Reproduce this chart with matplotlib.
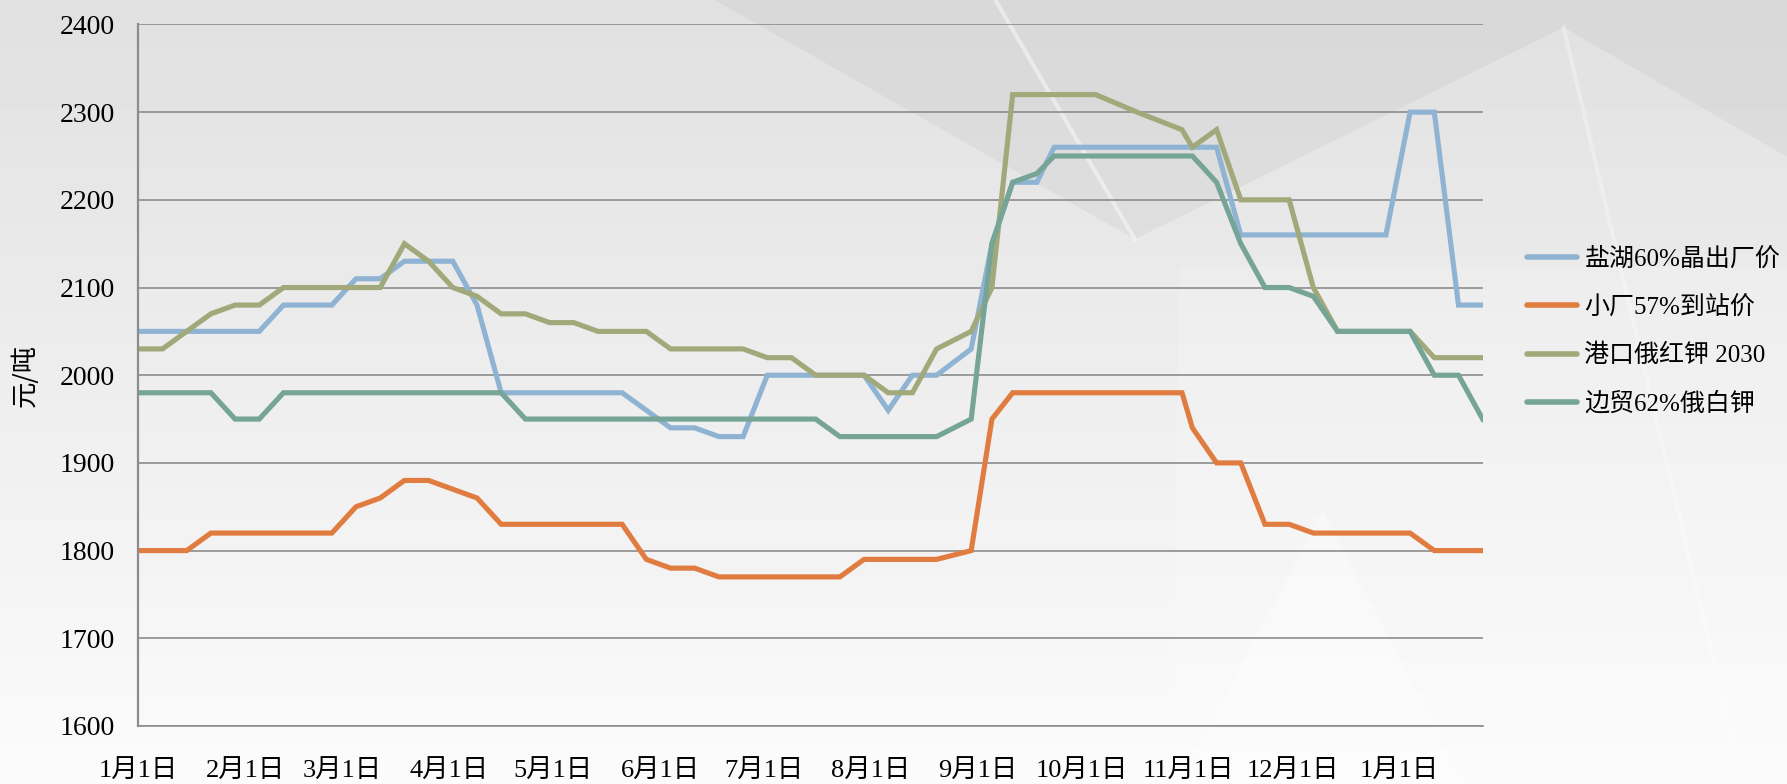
import numpy as np
import matplotlib.pyplot as plt
from matplotlib.patches import Polygon

# days since 1月1日 for each price point
days = [0, 7, 14, 21, 28, 35, 42, 49, 56, 63, 70, 77, 84, 91, 98, 105, 112, 119, 126, 133,
        140, 147, 154, 161, 168, 175, 182, 189, 196, 203, 210, 217, 224, 231,
        241, 247, 253, 260, 265, 277, 289, 302, 305,
        312, 319, 326, 333, 340, 347, 354, 361, 368, 375, 382, 389]

# 盐湖60%晶出厂价
yanhu = [2050, 2050, 2050, 2050, 2050, 2050, 2080, 2080, 2080, 2110, 2110, 2130, 2130, 2130,
         2080, 1980, 1980, 1980, 1980, 1980, 1980, 1960, 1940, 1940, 1930, 1930,
         2000, 2000, 2000, 2000, 2000, 1960, 2000, 2000, 2030, 2150, 2220, 2220,
         2260, 2260, 2260, 2260, 2260, 2260, 2160, 2160, 2160, 2160, 2160, 2160, 2160,
         2300, 2300, 2080, 2080]
# 小厂57%到站价
xiaochang = [1800, 1800, 1800, 1820, 1820, 1820, 1820, 1820, 1820, 1850, 1860, 1880, 1880,
             1870, 1860, 1830, 1830, 1830, 1830, 1830, 1830, 1790, 1780, 1780,
             1770, 1770, 1770, 1770, 1770, 1770, 1790, 1790, 1790, 1790, 1800, 1950,
             1980, 1980, 1980, 1980, 1980, 1980, 1940, 1900, 1900, 1830, 1830,
             1820, 1820, 1820, 1820, 1820, 1800, 1800, 1800]
# 港口俄红钾 2030
gangkou = [2030, 2030, 2050, 2070, 2080, 2080, 2100, 2100, 2100, 2100, 2100, 2150, 2130,
           2100, 2090, 2070, 2070, 2060, 2060, 2050, 2050, 2050, 2030, 2030, 2030, 2030,
           2020, 2020, 2000, 2000, 2000, 1980, 1980, 2030, 2050, 2100,
           2320, 2320, 2320, 2320, 2300, 2280, 2260, 2280, 2200, 2200, 2200, 2100,
           2050, 2050, 2050, 2050, 2020, 2020, 2020]
# 边贸62%俄白钾
bianmao = [1980, 1980, 1980, 1980, 1950, 1950] + [1980] * 10 + [1950] * 13 + [1930] * 5 + \
          [1950, 2150, 2220, 2230, 2250, 2250, 2250, 2250, 2250, 2220, 2150, 2100, 2100,
           2090, 2050, 2050, 2050, 2050, 2000, 2000, 1950]

month_days = [0, 31, 59, 90, 120, 151, 181, 212, 243, 273, 304, 334, 365]
month_labels = ["1月1日", "2月1日", "3月1日", "4月1日", "5月1日", "6月1日", "7月1日",
                "8月1日", "9月1日", "10月1日", "11月1日", "12月1日", "1月1日"]
y_ticks = [1600, 1700, 1800, 1900, 2000, 2100, 2200, 2300, 2400]

series = [("盐湖60%晶出厂价", yanhu, "#8fb4d3"),
          ("小厂57%到站价", xiaochang, "#e07c40"),
          ("港口俄红钾 2030", gangkou, "#a1a97b"),
          ("边贸62%俄白钾", bianmao, "#76a496")]

fonts = ["Liberation Serif", "Noto Sans CJK SC"]

fig = plt.figure(figsize=(17.87, 7.84), dpi=100)

# grey gradient background with some faint shapes
bg = fig.add_axes([0, 0, 1, 1], zorder=-10)
grad = np.linspace(0.88, 0.985, 256).reshape(-1, 1)
bg.imshow(grad, cmap="gray", vmin=0, vmax=1, aspect="auto", extent=[0, 1, 0, 1])
shapes = [[(0.40, 1.0), (0.635, 0.695), (0.875, 0.965), (1.0, 0.80), (1.0, 1.0)],
          [(0.655, 0.0), (0.66, 0.66), (1.0, 0.66), (1.0, 0.0)],
          [(0.66, 0.0), (0.74, 0.35), (0.82, 0.0)]]
for pts, c, a in zip(shapes, ["#bdbdbd", "#ffffff", "#ffffff"], [0.22, 0.18, 0.35]):
    bg.add_patch(Polygon(pts, closed=True, facecolor=c, edgecolor="none", alpha=a))
bg.plot([0.557, 0.635], [1.0, 0.695], color="white", lw=3, alpha=0.45)
bg.plot([0.875, 0.97], [0.965, 0.05], color="white", lw=3, alpha=0.3)
bg.set_xlim(0, 1); bg.set_ylim(0, 1)
bg.axis("off")

ax = fig.add_axes([0.0774, 0.074, 0.7523, 0.8948])
ax.patch.set_alpha(0)

for name, vals, col in series:
    ax.plot(days, vals, color=col, lw=3.7, label=name, solid_joinstyle="miter")

ax.set_xlim(days[0], days[-1])
ax.set_ylim(1600, 2400)
ax.set_yticks(y_ticks)
ax.set_xticks(month_days)
ax.set_xticklabels(month_labels)
ax.tick_params(axis="both", length=0)
ax.tick_params(axis="y", pad=17)
ax.tick_params(axis="x", pad=24)
for t in ax.get_yticklabels():
    t.set_family(fonts); t.set_fontsize(20)
for t in ax.get_xticklabels():
    t.set_family(fonts); t.set_fontsize(19)

ax.grid(axis="y", color="#8c8c8c", lw=1.2)
ax.set_axisbelow(True)
for s in ["top", "right"]:
    ax.spines[s].set_visible(False)
ax.spines["left"].set_color("#8c8c8c"); ax.spines["left"].set_linewidth(1.6)
ax.spines["bottom"].set_color("#8c8c8c"); ax.spines["bottom"].set_linewidth(1.2)

fig.text(0.014, 0.521, "元/吨", rotation=90, ha="center", va="center",
         fontsize=19, family=["Noto Sans CJK SC", "DejaVu Sans"])

leg = ax.legend(loc="center left", bbox_to_anchor=(0.8545, 0.577), bbox_transform=fig.transFigure,
                frameon=False, prop={"family": fonts, "size": 18}, handlelength=2.0,
                handletextpad=0.3, labelspacing=1.0, borderpad=0, borderaxespad=0)
for h in leg.get_lines():
    h.set_linewidth(4)
    h.set_solid_capstyle("round")

fig.savefig("out.png", dpi=100)
